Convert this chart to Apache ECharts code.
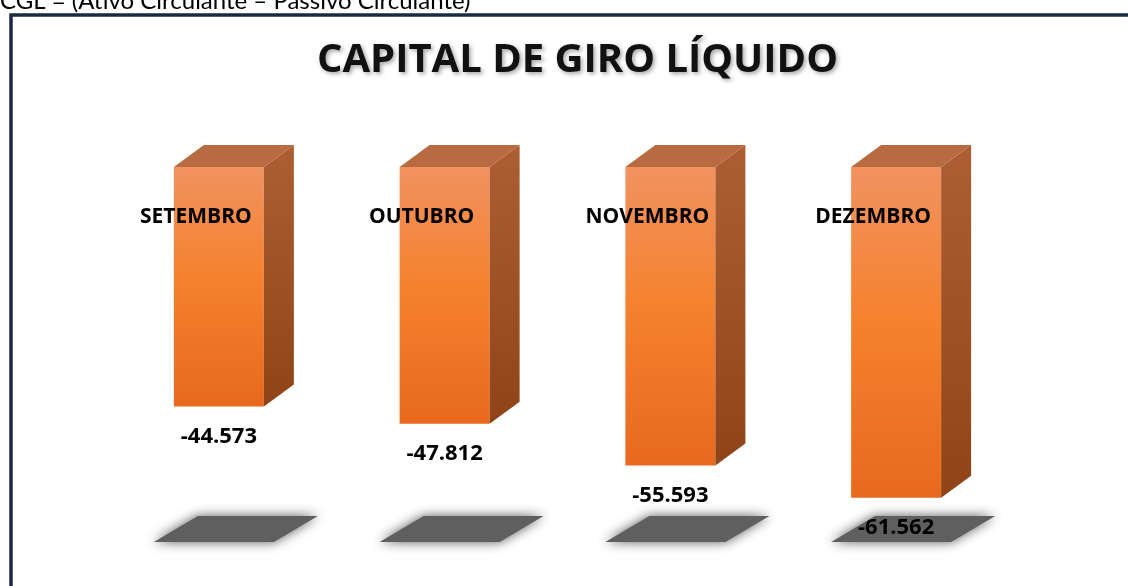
<!DOCTYPE html>
<html>
<head>
<meta charset="utf-8">
<script src="https://cdn.jsdelivr.net/npm/echarts@6/dist/echarts.min.js"></script>
<style>
  html, body { margin: 0; padding: 0; background: #fff; }
  #main { width: 1128px; height: 586px; }
</style>
</head>
<body>
<div id="main"></div>
<script>
// meses e valores do CGL (em R$)
var meses = ['SETEMBRO', 'OUTUBRO', 'NOVEMBRO', 'DEZEMBRO'];
var cgl = [-44573, -47812, -55593, -61562];

var myChart = echarts.init(document.getElementById('main'));

function fmt(v) { // formato pt-BR: -44.573
    var s = Math.abs(v).toString();
    var out = '';
    while (s.length > 3) {
        out = '.' + s.slice(-3) + out;
        s = s.slice(0, -3);
    }
    return (v < 0 ? '-' : '') + s + out;
}

var dados = cgl.map(function (v, i) { return [i, v]; });

var DX = 30, DY = 22, HALF = 45;

function renderBar(params, api) {
    var i = api.value(0);
    var p0 = api.coord([i, 0]);
    var p1 = api.coord([i, api.value(1)]);
    var cx = p0[0], top = p0[1], bot = p1[1];
    var l = cx - HALF, r = cx + HALF;
    return {
        type: 'group',
        children: [
            { // sombra no chao
                type: 'polygon',
                shape: { points: [[l + 24, 516], [l + 144, 516], [l + 100, 542], [l - 20, 542]] },
                style: { fill: '#5f5f5f', shadowBlur: 12, shadowColor: 'rgba(70,70,70,0.9)' }
            },
            { // frente
                type: 'rect',
                shape: { x: l, y: top, width: HALF * 2, height: bot - top },
                style: {
                    fill: new echarts.graphic.LinearGradient(0, 0, 0, 1, [
                        { offset: 0, color: '#f19260' },
                        { offset: 0.45, color: '#f5822f' },
                        { offset: 1, color: '#e8691d' }
                    ])
                }
            },
            { // lado
                type: 'polygon',
                shape: { points: [[r, top], [r + DX, top - DY], [r + DX, bot - DY], [r, bot]] },
                style: {
                    fill: new echarts.graphic.LinearGradient(0, 0, 0, 1, [
                        { offset: 0, color: '#ad5f33' },
                        { offset: 1, color: '#8f4417' }
                    ])
                }
            },
            { // topo
                type: 'polygon',
                shape: { points: [[l, top], [l + DX, top - DY], [r + DX, top - DY], [r, top]] },
                style: { fill: '#b86a40' }
            },
            {
                type: 'text',
                x: cx - 23, y: 217,
                style: {
                    text: meses[i], fill: '#000', font: 'bold 21px "Open Sans"',
                    align: 'center', verticalAlign: 'middle'
                }
            },
            {
                type: 'text',
                x: cx, y: bot + 30,
                style: {
                    text: fmt(api.value(1)), fill: '#000', font: 'bold 22px "Open Sans"',
                    align: 'center', verticalAlign: 'middle'
                }
            }
        ]
    };
}

var option = {
    animation: false,
    title: {
        text: 'CAPITAL DE GIRO LÍQUIDO',
        left: 312,
        top: 36,
        textStyle: {
            fontFamily: 'Open Sans', fontWeight: 'bold', fontSize: 40, color: '#111',
            textShadowColor: 'rgba(0,0,0,0.35)', textShadowBlur: 4, textShadowOffsetX: 2, textShadowOffsetY: 2
        }
    },
    graphic: [
        {
            type: 'rect', z: 100,
            shape: { x: 11, y: 15, width: 1300, height: 800 },
            style: { fill: null, stroke: '#1c2a40', lineWidth: 3.5 }
        },
        {
            type: 'text', left: 0, top: -11,
            style: { text: 'CGL = (Ativo Circulante – Passivo Circulante)', fill: '#000', font: '24px Lato' }
        }
    ],
    grid: { left: 106, right: 119, top: 167, bottom: 43 },
    xAxis: { type: 'category', data: meses, show: false },
    yAxis: { type: 'value', min: -70000, max: 0, show: false },
    series: [{
        type: 'custom',
        clip: false,
        data: dados,
        renderItem: renderBar
    }]
};
myChart.setOption(option);
</script>
</body>
</html>
